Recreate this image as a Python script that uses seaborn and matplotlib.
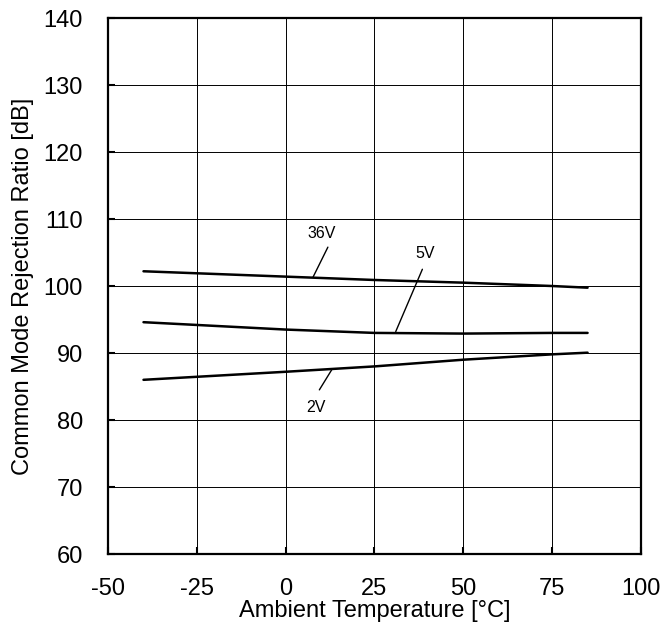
import matplotlib
matplotlib.use("Agg")
import matplotlib.pyplot as plt
import seaborn as sns
import pandas as pd

temps = [-40, 0, 25, 50, 75, 85]
cmrr_36v = [102.2, 101.4, 100.9, 100.5, 100.0, 99.75]
cmrr_5v = [94.6, 93.5, 93.0, 92.9, 93.0, 93.0]
cmrr_2v = [86.0, 87.2, 88.0, 89.0, 89.8, 90.05]
series_names = ["36V", "5V", "2V"]
x_ticks = [-50, -25, 0, 25, 50, 75, 100]
y_ticks = [60, 70, 80, 90, 100, 110, 120, 130, 140]

sns.set_theme(style="white")
plt.rcParams['font.family'] = ['Liberation Sans', 'DejaVu Sans']
plt.rcParams['axes.unicode_minus'] = False

df = pd.DataFrame({
    "temp": temps * 3,
    "cmrr": cmrr_36v + cmrr_5v + cmrr_2v,
    "series": sum([[n] * len(temps) for n in series_names], []),
})

fig = plt.figure(figsize=(6.6, 6.32), dpi=100)
ax = fig.add_axes([0.1636, 0.1234, 0.8074, 0.8481])

sns.lineplot(data=df, x="temp", y="cmrr", hue="series", units="series",
             estimator=None, palette=["black"] * 3, linewidth=1.8,
             legend=False, ax=ax, zorder=3)

ax.set_xlim(-50, 100)
ax.set_ylim(60, 140)
ax.set_xticks(x_ticks)
ax.set_yticks(y_ticks)
ax.grid(True, color="black", linewidth=0.7)
for s in ax.spines.values():
    s.set_color("black")
    s.set_linewidth(1.6)
ax.tick_params(axis="both", direction="in", length=5, width=1.5,
               labelsize=17, colors="black", left=True, bottom=True)
ax.tick_params(axis="x", pad=17)
ax.tick_params(axis="y", pad=18)
ax.set_xlabel("Ambient Temperature [°C]", fontsize=17, labelpad=0, color="black")
ax.set_ylabel("Common Mode Rejection Ratio [dB]", fontsize=17, labelpad=7, color="black")

# series labels with leader lines
labels = [
    ("36V", (10.2, 107.9), (11.9, 105.8), (7.7, 101.3)),
    ("5V", (39.2, 104.9), (38.5, 102.5), (31.0, 93.2)),
    ("2V", (8.5, 81.9), (13.1, 87.6), (9.5, 84.5)),
]
for txt, tpos, p1, p2 in labels:
    ax.text(tpos[0], tpos[1], txt, fontsize=11.5, ha="center", va="center", color="black")
    ax.plot([p1[0], p2[0]], [p1[1], p2[1]], color="black", linewidth=1.0, zorder=3)

fig.savefig("out.png", dpi=100)
